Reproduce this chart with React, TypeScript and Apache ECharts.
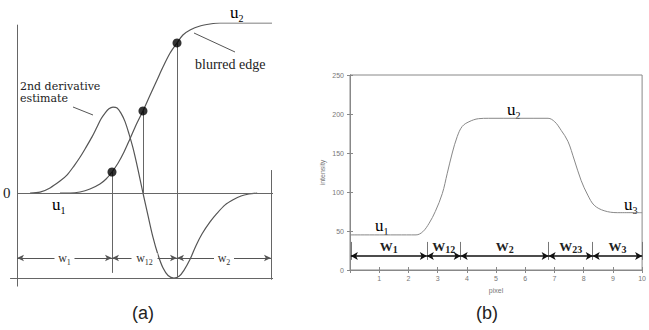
import React, { useEffect, useRef } from 'react';
import * as echarts from 'echarts';

// ---- Panel (a): blurred edge and its derivative estimate (arbitrary units)
const derivX = [0.51, 0.9, 1.29, 1.68, 1.95, 2.23, 2.46, 2.7, 2.93, 3.13, 3.28, 3.44, 3.59, 3.75, 3.91, 4.06, 4.22, 4.38, 4.53, 4.73, 4.92, 5.12, 5.31, 5.51, 5.7, 5.9, 6.13, 6.33, 6.52, 6.76, 6.99, 7.23, 7.54, 7.81, 8.13, 8.44, 8.75, 9.06, 9.38];
const derivY = [0, 0.01, 0.06, 0.14, 0.21, 0.32, 0.42, 0.54, 0.66, 0.78, 0.87, 0.94, 0.99, 1.01, 1.0, 0.94, 0.84, 0.69, 0.53, 0.27, 0, -0.27, -0.52, -0.73, -0.88, -0.97, -1.0, -0.98, -0.91, -0.78, -0.62, -0.48, -0.34, -0.24, -0.14, -0.08, -0.035, -0.012, 0];
const edgeX = [1.68, 2.07, 2.46, 2.85, 3.24, 3.48, 3.71, 3.95, 4.18, 4.41, 4.65, 4.92, 5.2, 5.47, 5.7, 5.98, 6.25, 6.48, 6.76, 7.15, 7.54, 7.93, 9.96];
const edgeY = [0, 0, 0.012, 0.047, 0.106, 0.165, 0.247, 0.353, 0.482, 0.635, 0.8, 0.965, 1.153, 1.329, 1.482, 1.647, 1.765, 1.859, 1.918, 1.965, 1.988, 2.0, 2.0];
const dotX = [3.71, 4.92, 6.25];
const dotY = [0.247, 0.965, 1.765];
const segA = [0, 3.71, 6.25, 9.92];
const segLabelsA = ['1', '12', '2'];

// ---- Panel (b): intensity profile across pixels
const pixelX = [0, 2.26, 2.49, 2.71, 2.92, 3.16, 3.33, 3.5, 3.67, 3.84, 4.07, 4.4, 4.75, 6.78, 7.01, 7.23, 7.46, 7.68, 7.91, 8.14, 8.36, 8.7, 9.15, 10];
const intensity = [45, 45, 49, 60, 75, 98, 124, 150, 171, 184, 190, 194, 194.5, 194.5, 190, 179, 165, 141, 115, 96, 83, 76, 73.5, 73.5];
const segB = [0.03, 2.63, 3.79, 6.8, 8.31, 10];
const segLabelsB = ['1', '12', '2', '23', '3'];

const zip = (xs: number[], ys: number[]) => xs.map((x, i) => [x, ys[i]]);

const SERIF = 'Liberation Serif';
const SANS = 'Liberation Sans';

function subRich(big: number, small: number, color = '#222', weight: any = 'normal') {
  return {
    b: { fontFamily: SERIF, fontSize: big, color, fontWeight: weight, verticalAlign: 'bottom', lineHeight: big },
    s: { fontFamily: SERIF, fontSize: small, color, fontWeight: weight, verticalAlign: 'bottom', lineHeight: big, padding: [0, 0, -2, 0] },
  };
}

export default function App() {
  const ref = useRef<HTMLDivElement>(null);
  useEffect(() => {
    const chart = echarts.init(ref.current!, null, { renderer: 'svg' });
    const lineGray = '#666';

    const frameA: any[] = [
      [{ coord: [0, -1.1] }, { coord: [0, 1.98] }],
      [{ coord: [0, 0] }, { coord: [10, 0] }],
      [{ coord: [-0.27, -1] }, { coord: [10, -1] }],
      [{ coord: [dotX[0], dotY[0]] }, { coord: [dotX[0], -0.94] }],
      [{ coord: [dotX[1], dotY[1]] }, { coord: [dotX[1], 0] }],
      [{ coord: [dotX[2], dotY[2]] }, { coord: [dotX[2], -1] }],
      [{ coord: [segA[3], 0.27] }, { coord: [segA[3], -1.02] }],
    ];
    const arrowsA: any[] = segLabelsA.map((_, i) => [
      { coord: [segA[i], -0.765] },
      { coord: [segA[i + 1], -0.765] },
    ]);
    const labelsA: any[] = segLabelsA.map((s, i) => ({
      coord: [(segA[i] + segA[i + 1]) / 2, -0.765],
      value: s,
      symbol: 'rect',
      symbolSize: [s.length > 1 ? 26 : 20, 10],
      itemStyle: { color: '#fff' },
      label: {
        show: true, position: 'inside', formatter: `{b|w}{s|${s}}`,
        rich: subRich(12, 8, '#333'),
      },
    }));
    const arrowsB: any[] = segLabelsB.map((_, i) => [
      { coord: [segB[i], 18] },
      { coord: [segB[i + 1], 18] },
    ]);
    const ticksB: any[] = segB.map((x) => [{ coord: [x, 13] }, { coord: [x, 36] }]);

    const axisCol = '#888';
    const option: any = {
      animation: false,
      grid: [
        { left: 9.32, top: 23, width: 263.7, height: 263.5 },
        { left: 350, top: 75, width: 295, height: 195, show: true, borderColor: axisCol, borderWidth: 1 },
      ],
      xAxis: [
        { gridIndex: 0, type: 'value', min: -0.3, max: 10, show: false },
        {
          gridIndex: 1, type: 'value', min: 0, max: 10, interval: 1,
          axisLine: { lineStyle: { color: axisCol } },
          axisTick: { inside: true, length: 3, lineStyle: { color: axisCol } },
          axisLabel: { fontSize: 7, color: '#777', margin: 5, fontFamily: SANS, formatter: (v: number) => (v === 0 ? '' : String(v)) },
          splitLine: { show: false },
          name: 'pixel', nameLocation: 'middle', nameGap: 17,
          nameTextStyle: { fontSize: 7, color: '#777', fontFamily: SANS },
        },
        {
          gridIndex: 1, type: 'value', position: 'top', min: 0, max: 10, interval: 1,
          axisLine: { lineStyle: { color: axisCol } },
          axisTick: { inside: true, length: 3, lineStyle: { color: axisCol } },
          axisLabel: { show: false }, splitLine: { show: false },
        },
      ],
      yAxis: [
        { gridIndex: 0, type: 'value', min: -1.1, max: 2, show: false },
        {
          gridIndex: 1, type: 'value', min: 0, max: 250, interval: 50,
          axisLine: { show: true, lineStyle: { color: axisCol } },
          axisTick: { show: true, inside: true, length: 3, lineStyle: { color: axisCol } },
          axisLabel: { fontSize: 7, color: '#777', margin: 6, fontFamily: SANS },
          splitLine: { show: false },
          name: 'intensity', nameLocation: 'middle', nameGap: 24, nameRotate: 90,
          nameTextStyle: { fontSize: 7, color: '#777', fontFamily: SANS },
        },
        {
          gridIndex: 1, type: 'value', position: 'right', min: 0, max: 250, interval: 50,
          axisLine: { show: true, lineStyle: { color: axisCol } },
          axisTick: { show: true, inside: true, length: 3, lineStyle: { color: axisCol } },
          axisLabel: { show: false }, splitLine: { show: false },
        },
      ],
      series: [
        {
          type: 'line', xAxisIndex: 0, yAxisIndex: 0, data: zip(derivX, derivY),
          smooth: 0.3, showSymbol: false, lineStyle: { color: '#555', width: 1.2 }, silent: true,
          markLine: {
            silent: true, symbol: 'none', animation: false,
            lineStyle: { color: lineGray, width: 1, type: 'solid' },
            label: { show: false },
            data: frameA,
          },
        },
        {
          type: 'line', xAxisIndex: 0, yAxisIndex: 0, data: zip(edgeX, edgeY),
          smooth: 0.3, showSymbol: false, lineStyle: { color: '#555', width: 1.2 }, silent: true,
          markLine: {
            silent: true, symbol: ['arrow', 'arrow'], symbolSize: [5, 7], animation: false,
            lineStyle: { color: '#555', width: 1, type: 'solid' },
            label: { show: false },
            data: arrowsA,
          },
          markPoint: { silent: true, animation: false, data: labelsA },
        },
        {
          type: 'scatter', xAxisIndex: 0, yAxisIndex: 0, data: zip(dotX, dotY),
          symbolSize: 9, itemStyle: { color: '#000' }, silent: true, z: 5,
        },
        {
          type: 'line', xAxisIndex: 1, yAxisIndex: 1, data: zip(pixelX, intensity),
          smooth: 0.35, showSymbol: false, lineStyle: { color: '#888', width: 1 }, silent: true,
          markLine: {
            silent: true, symbol: 'none', animation: false,
            lineStyle: { color: '#777', width: 1, type: 'solid' },
            label: { show: false },
            data: ticksB,
          },
        },
        {
          type: 'line', xAxisIndex: 1, yAxisIndex: 1, data: [],
          markLine: {
            silent: true, symbol: ['arrow', 'arrow'], symbolSize: [6, 7], animation: false,
            lineStyle: { color: '#111', width: 1.5, type: 'solid' },
            label: {
              show: true, position: 'insideMiddleTop', distance: 3,
              formatter: (p: any) => `{b|W}{s|${segLabelsB[p.dataIndex]}}`,
              rich: subRich(13, 10, '#222', 'bold'),
            },
            data: arrowsB,
          },
        },
      ],
      graphic: [
        { type: 'text', left: 3, top: 185, style: { text: '0', font: `15px "${SERIF}"`, fill: '#222' } },
        { type: 'text', x: 52, y: 196, style: { text: '{b|u}{s|1}', rich: subRich(17, 10) } },
        { type: 'text', x: 230, y: 4, style: { text: '{b|u}{s|2}', rich: subRich(17, 10) } },
        { type: 'text', x: 20, y: 81, style: { text: '2nd derivative', font: `11px "DejaVu Serif"`, lineHeight: 11, fill: '#222' } },
        { type: 'text', x: 20, y: 93, style: { text: 'estimate', font: `11px "DejaVu Serif"`, lineHeight: 11, fill: '#222' } },
        { type: 'line', shape: { x1: 73, y1: 107, x2: 93, y2: 115 }, style: { stroke: '#555', lineWidth: 1 } },
        { type: 'text', x: 195, y: 57, style: { text: 'blurred edge', font: `14px "${SERIF}"`, fill: '#222' } },
        { type: 'line', shape: { x1: 194, y1: 33, x2: 235, y2: 52 }, style: { stroke: '#555', lineWidth: 1 } },
        { type: 'text', x: 375, y: 217, style: { text: '{b|u}{s|1}', rich: subRich(17, 10) } },
        { type: 'text', x: 507, y: 101, style: { text: '{b|u}{s|2}', rich: subRich(17, 10) } },
        { type: 'text', x: 624, y: 196, style: { text: '{b|u}{s|3}', rich: subRich(17, 10) } },
        { type: 'text', x: 143, y: 313, style: { text: '(a)', font: `18px "${SANS}"`, fill: '#222', align: 'center', verticalAlign: 'middle' } },
        { type: 'text', x: 487, y: 313, style: { text: '(b)', font: `18px "${SANS}"`, fill: '#222', align: 'center', verticalAlign: 'middle' } },
      ],
    };
    chart.setOption(option);
    return () => chart.dispose();
  }, []);
  return <div ref={ref} style={{ position: 'fixed', left: 0, top: 0, width: 649, height: 330, background: '#fff' }} />;
}
